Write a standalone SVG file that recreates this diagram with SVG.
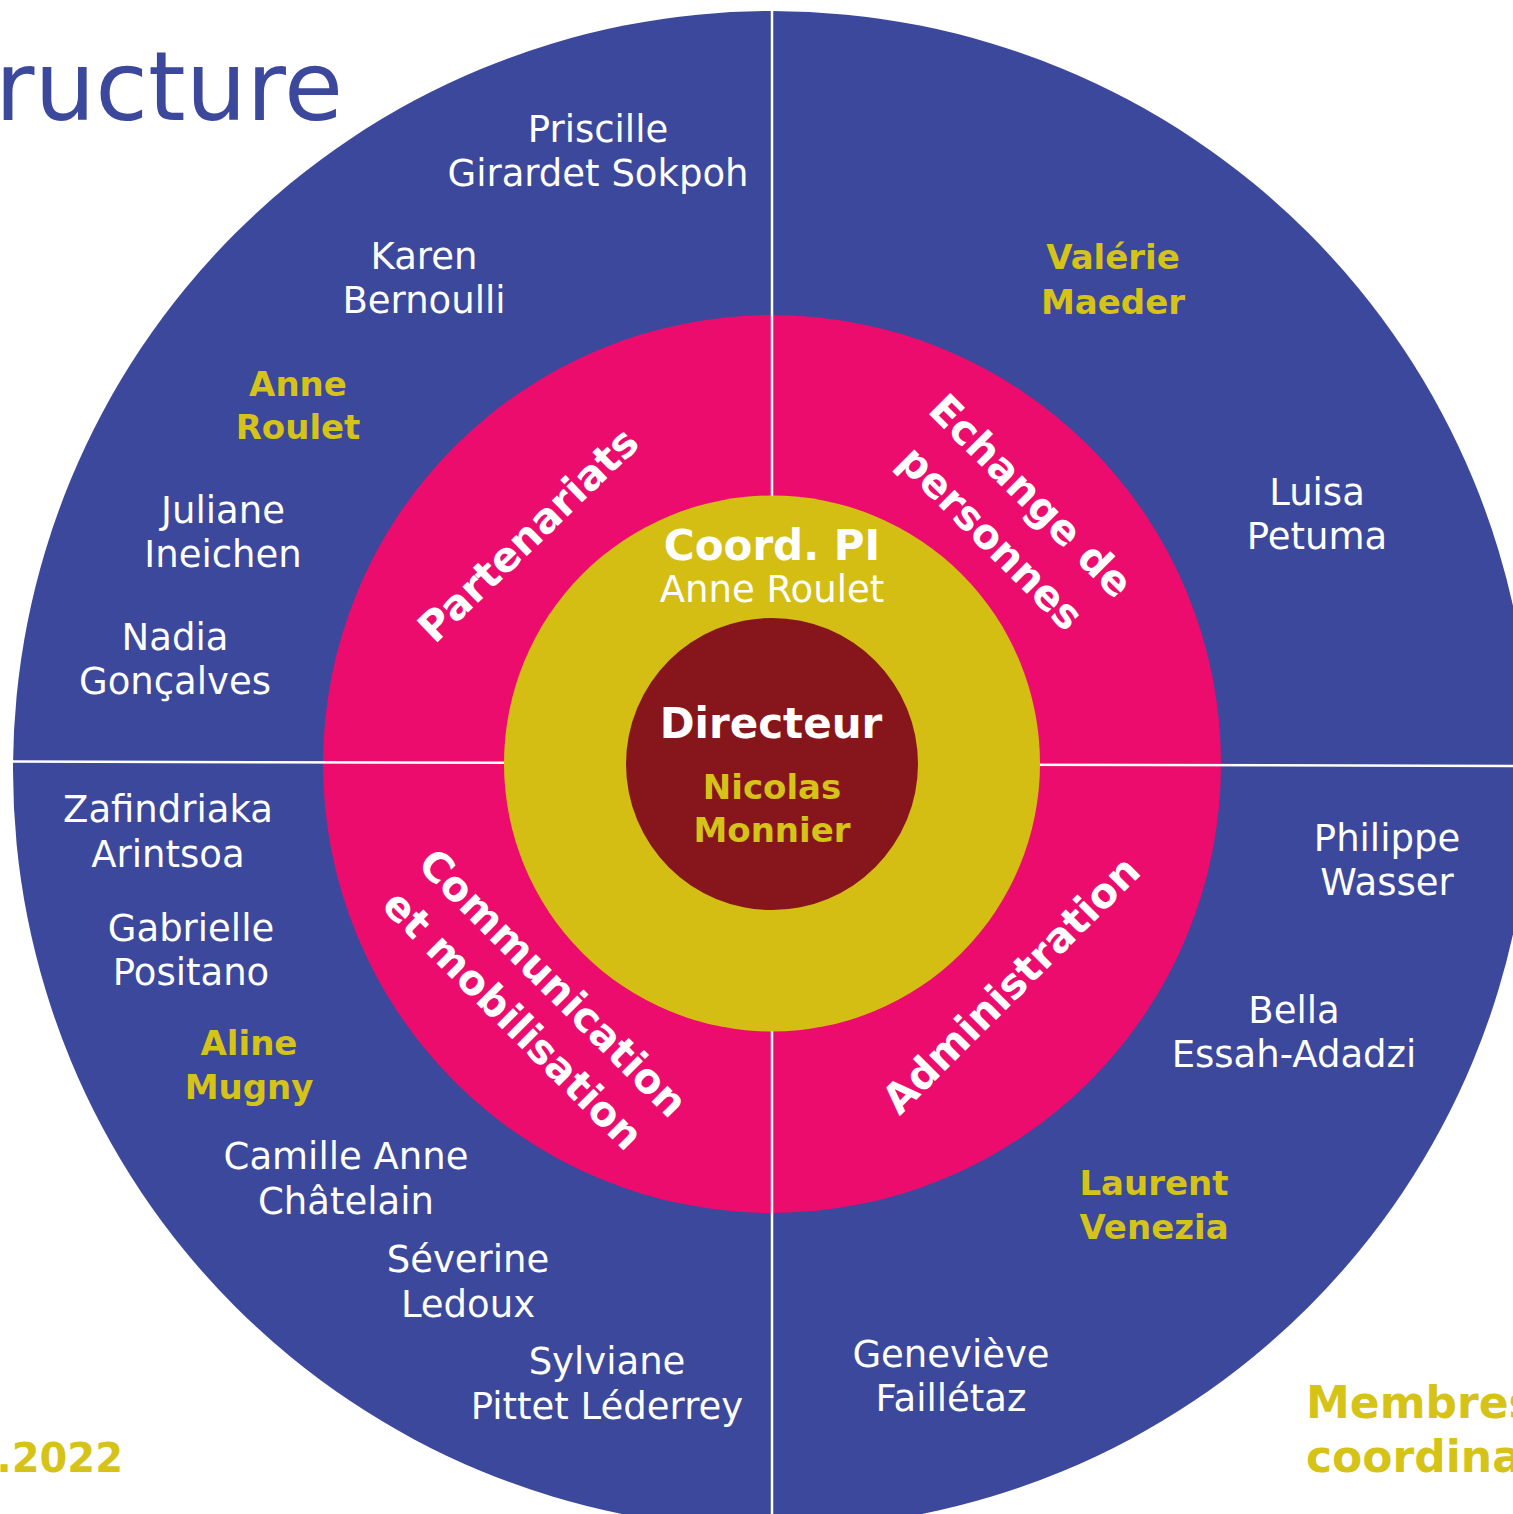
<svg xmlns="http://www.w3.org/2000/svg" width="1513" height="1514" viewBox="0 0 1513 1514">
<style>
.bg{fill:#ffffff}
.t{font-family:"DejaVu Sans","Liberation Sans",sans-serif;text-anchor:middle}
.n{font-size:37px;fill:#ffffff}
.y{font-size:34px;font-weight:bold;fill:#d6c318}
.q{font-size:41px;font-weight:bold;fill:#ffffff}
.div{stroke:#ffffff;stroke-width:2.5;fill:none}
</style>
<rect class="bg" x="0" y="0" width="1513" height="1514"/>
<g id="title">
<text x="343" y="120" font-family="DejaVu Sans, Liberation Sans, sans-serif" font-size="96" fill="#3c489b" text-anchor="end">ructure</text>
</g>
<g id="date">
<text x="123" y="1472" font-family="DejaVu Sans, Liberation Sans, sans-serif" font-size="40" font-weight="bold" fill="#d6c318" text-anchor="end">.2022</text>
</g>
<g id="legend">
<text x="1306" y="1418" font-family="DejaVu Sans, Liberation Sans, sans-serif" font-size="44" font-weight="bold" fill="#d6c318">Membres</text>
<text x="1306" y="1472" font-family="DejaVu Sans, Liberation Sans, sans-serif" font-size="44" font-weight="bold" fill="#d6c318">coordina</text>
</g>
<g id="outer-ring"><circle cx="772" cy="770" r="759" fill="#3c489b"/></g>
<g id="pink-ring"><circle cx="772" cy="764" r="449" fill="#ec0c6e"/></g>
<g id="connectors">
<line class="div" x1="772" y1="8" x2="772" y2="1514"/>
<line class="div" x1="12" y1="761.5" x2="772" y2="763.5"/>
<line class="div" x1="772" y1="764" x2="1513" y2="766"/>
</g>
<g id="coord">
<circle cx="772" cy="763.5" r="268" fill="#d4be14"/>
<text class="t" x="772" y="560" font-size="42" font-weight="bold" fill="#ffffff">Coord. PI</text>
<text class="t n" x="772" y="602">Anne Roulet</text>
</g>
<g id="directeur">
<circle cx="772" cy="764" r="146" fill="#86161b"/>
<text class="t" x="771" y="738" font-size="42" font-weight="bold" fill="#ffffff">Directeur</text>
<text class="t y" x="772" y="799">Nicolas</text>
<text class="t y" x="772" y="842">Monnier</text>
</g>
<g id="partenariats"><text class="t q" transform="translate(538,545) rotate(-44)">Partenariats</text></g>
<g id="echange">
<text class="t q" transform="translate(1021,506) rotate(45)">Echange de</text>
<text class="t q" transform="translate(981,548) rotate(45)">personnes</text>
</g>
<g id="communication">
<text class="t q" transform="translate(543,993) rotate(45)">Communication</text>
<text class="t q" transform="translate(503,1030) rotate(45)">et mobilisation</text>
</g>
<g id="administration"><text class="t q" transform="translate(1021,995) rotate(-45)">Administration</text></g>
<g id="p-priscille"><text class="t n" x="598" y="142">Priscille</text><text class="t n" x="598" y="186">Girardet Sokpoh</text></g>
<g id="p-karen"><text class="t n" x="424" y="269">Karen</text><text class="t n" x="424" y="313">Bernoulli</text></g>
<g id="p-anne"><text class="t y" x="298" y="396">Anne</text><text class="t y" x="298" y="439">Roulet</text></g>
<g id="p-juliane"><text class="t n" x="223" y="523">Juliane</text><text class="t n" x="223" y="567">Ineichen</text></g>
<g id="p-nadia"><text class="t n" x="175" y="650">Nadia</text><text class="t n" x="175" y="694">Gonçalves</text></g>
<g id="p-zafindriaka"><text class="t n" x="168" y="822">Zafindriaka</text><text class="t n" x="168" y="867">Arintsoa</text></g>
<g id="p-gabrielle"><text class="t n" x="191" y="941">Gabrielle</text><text class="t n" x="191" y="985">Positano</text></g>
<g id="p-aline"><text class="t y" x="249" y="1055">Aline</text><text class="t y" x="249" y="1099">Mugny</text></g>
<g id="p-camille"><text class="t n" x="346" y="1169">Camille Anne</text><text class="t n" x="346" y="1214">Châtelain</text></g>
<g id="p-severine"><text class="t n" x="468" y="1272">Séverine</text><text class="t n" x="468" y="1317">Ledoux</text></g>
<g id="p-sylviane"><text class="t n" x="607" y="1374">Sylviane</text><text class="t n" x="607" y="1419">Pittet Léderrey</text></g>
<g id="p-valerie"><text class="t y" x="1113" y="269">Valérie</text><text class="t y" x="1113" y="314">Maeder</text></g>
<g id="p-luisa"><text class="t n" x="1317" y="505">Luisa</text><text class="t n" x="1317" y="549">Petuma</text></g>
<g id="p-philippe"><text class="t n" x="1387" y="851">Philippe</text><text class="t n" x="1387" y="895">Wasser</text></g>
<g id="p-bella"><text class="t n" x="1294" y="1023">Bella</text><text class="t n" x="1294" y="1067">Essah-Adadzi</text></g>
<g id="p-laurent"><text class="t y" x="1154" y="1195">Laurent</text><text class="t y" x="1154" y="1239">Venezia</text></g>
<g id="p-genevieve"><text class="t n" x="951" y="1367">Geneviève</text><text class="t n" x="951" y="1411">Faillétaz</text></g>
</svg>
